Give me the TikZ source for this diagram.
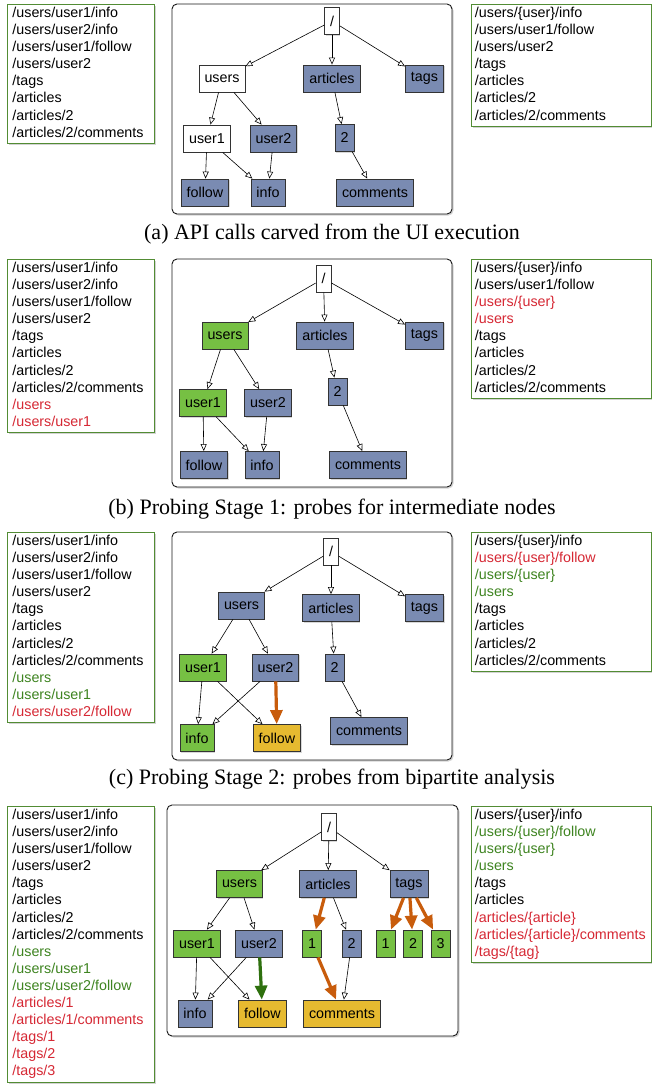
\documentclass[tikz,border=0pt]{standalone}
\usepackage{fontspec}
\setmainfont{Liberation Serif}
\newfontfamily\callfont{Liberation Sans}
\usetikzlibrary{arrows.meta,shadows}

\definecolor{apiblue}{RGB}{122,139,178}
\definecolor{hitgreen}{RGB}{118,192,67}
\definecolor{newgold}{RGB}{230,186,48}
\definecolor{probeorange}{RGB}{200,92,12}
\definecolor{foundgreen}{RGB}{46,112,14}
\definecolor{newred}{RGB}{214,40,52}
\definecolor{okgreen}{RGB}{62,132,32}
\definecolor{listframe}{RGB}{82,140,52}

\tikzset{
  tnode/.style={draw=black!80, line width=0.8pt, minimum height=27pt, inner xsep=5.5pt, inner ysep=0pt,
    font=\callfont\fontsize{14.3}{17}\selectfont,
    drop shadow={shadow xshift=1pt, shadow yshift=-1pt, opacity=0.3}},
  plain/.style={tnode, fill=white},
  seen/.style={tnode, fill=apiblue},
  hit/.style={tnode, fill=hitgreen},
  fresh/.style={tnode, fill=newgold},
  link/.style={line width=0.6pt, -{Triangle[open, length=7pt, width=6pt]}},
  probe/.style={line width=3.2pt, probeorange, -{Triangle[length=14pt, width=12pt]}},
  found/.style={probe, foundgreen},
  calls/.style={draw=listframe, line width=0.9pt, fill=white, anchor=north west, align=left, inner ysep=1pt,
    font=\callfont\fontsize{14.3}{17.1}\selectfont,
    execute at begin node=\strut, execute at end node=\strut,
    drop shadow={shadow xshift=1.5pt, shadow yshift=-1.5pt, opacity=0.35}},
  leftcalls/.style={calls, text width=137pt, inner xsep=5pt},
  rightcalls/.style={calls, text width=173pt, inner xsep=3.5pt},
  treeframe/.style={draw=black!90, line width=0.9pt, rounded corners=5pt, fill=white,
    drop shadow={shadow xshift=1.5pt, shadow yshift=-1.5pt, opacity=0.35}},
  capt/.style={anchor=base, font=\fontsize{22}{26}\selectfont}
}

% the calls carved from the UI, shared by every left list
\newcommand{\carvedcalls}{/users/user1/info\\ /users/user2/info\\ /users/user1/follow\\ /users/user2\\
  /tags\\ /articles\\ /articles/2\\ /articles/2/comments}
\newcommand{\red}[1]{\textcolor{newred}{#1}}
\newcommand{\grn}[1]{\textcolor{okgreen}{#1}}

\begin{document}
\begin{tikzpicture}[x=1pt, y=-1pt]
    \useasboundingbox (0,0) rectangle (652,1085);

    % (a) carved calls
    \node[leftcalls] (alist) at (7,4) {\carvedcalls};
    \draw[treeframe] (172,4) rectangle (452,214);
    \node[rightcalls] (aright) at (471,4) {/users/\{user\}/info\\ /users/user1/follow\\ /users/user2\\ /tags\\
      /articles\\ /articles/2\\ /articles/2/comments};
    \node[plain] (aroot) at (332,21) {/};
    \node[plain] (ausers) at (222,78.5) {users};
    \node[seen] (aarticles) at (332,78.5) {articles};
    \node[seen] (atags) at (424.5,78.5) {tags};
    \node[plain] (auserA) at (207,138.5) {user1};
    \node[seen] (auserB) at (273.5,138.5) {user2};
    \node[seen] (atwo) at (344.5,138) {2};
    \node[seen] (afollow) at (205,192.5) {follow};
    \node[seen] (ainfo) at (268,192.5) {info};
    \node[seen] (acomments) at (375,192.5) {comments};
    \foreach \from/\to in {root/users, root/articles, root/tags, users/userA, users/userB,
        userA/follow, userA/info, userB/info, articles/two, two/comments}
        \draw[link] (a\from) -- (a\to);
    \node[capt] (acap) at (332,239) {(a) API calls carved from the UI execution};

    % (b) probing stage 1
    \node[leftcalls] (blist) at (7,259) {\carvedcalls\\ \red{/users}\\ \red{/users/user1}};
    \draw[treeframe] (172,259) rectangle (452,487);
    \node[rightcalls] (bright) at (471,259) {/users/\{user\}/info\\ /users/user1/follow\\ \red{/users/\{user\}}\\
      \red{/users}\\ /tags\\ /articles\\ /articles/2\\ /articles/2/comments};
    \node[plain] (broot) at (323.5,278.5) {/};
    \node[hit] (busers) at (225,335.5) {users};
    \node[seen] (barticles) at (325,335.5) {articles};
    \node[seen] (btags) at (424.5,335.5) {tags};
    \node[hit] (buserA) at (203,403) {user1};
    \node[seen] (buserB) at (268,403) {user2};
    \node[seen] (btwo) at (337.5,391.5) {2};
    \node[seen] (bfollow) at (204,465) {follow};
    \node[seen] (binfo) at (262,465) {info};
    \node[seen] (bcomments) at (368,465) {comments};
    \foreach \from/\to in {root/users, root/articles, root/tags, users/userA, users/userB,
        userA/follow, userA/info, userB/info, articles/two, two/comments}
        \draw[link] (b\from) -- (b\to);
    \node[capt] (bcap) at (332,514) {(b) Probing Stage 1: probes for intermediate nodes};

    % (c) probing stage 2
    \node[leftcalls] (clist) at (7,532) {\carvedcalls\\ \grn{/users}\\ \grn{/users/user1}\\ \red{/users/user2/follow}};
    \draw[treeframe] (172,532) rectangle (452,760);
    \node[rightcalls] (cright) at (471,532) {/users/\{user\}/info\\ \red{/users/\{user\}/follow}\\
      \grn{/users/\{user\}}\\ \grn{/users}\\ /tags\\ /articles\\ /articles/2\\ /articles/2/comments};
    \node[plain] (croot) at (331,551.5) {/};
    \node[seen] (cusers) at (241.5,605.5) {users};
    \node[seen] (carticles) at (331,608) {articles};
    \node[seen] (ctags) at (424.5,608) {tags};
    \node[hit] (cuserA) at (203,667.5) {user1};
    \node[seen] (cuserB) at (275.5,667.5) {user2};
    \node[seen] (ctwo) at (334.5,667.5) {2};
    \node[hit] (cinfo) at (197,738) {info};
    \node[fresh] (cfollow) at (277,738) {follow};
    \node[seen] (ccomments) at (369,731) {comments};
    \foreach \from/\to in {root/users, root/articles, root/tags, users/userA, users/userB,
        userA/info, userA/follow, userB/info, articles/two, two/comments}
        \draw[link] (c\from) -- (c\to);
    \draw[probe] (cuserB) -- (cfollow);
    \node[capt] (ccap) at (332,784) {(c) Probing Stage 2: probes from bipartite analysis};

    % (d) probing stage 3
    \node[leftcalls] (dlist) at (7,806) {\carvedcalls\\ \grn{/users}\\ \grn{/users/user1}\\ \grn{/users/user2/follow}\\
      \red{/articles/1}\\ \red{/articles/1/comments}\\ \red{/tags/1}\\ \red{/tags/2}\\ \red{/tags/3}};
    \draw[treeframe] (167,805) rectangle (458,1036);
    \node[rightcalls] (dright) at (471,806) {/users/\{user\}/info\\ \grn{/users/\{user\}/follow}\\
      \grn{/users/\{user\}}\\ \grn{/users}\\ /tags\\ /articles\\ \red{/articles/\{article\}}\\
      \red{/articles/\{article\}/comments}\\ \red{/tags/\{tag\}}};
    \node[plain] (droot) at (329,827) {/};
    \node[hit] (dusers) at (239.5,884) {users};
    \node[seen] (darticles) at (328,884) {articles};
    \node[seen] (dtags) at (409,884) {tags};
    \node[hit] (duserA) at (197,943.5) {user1};
    \node[seen] (duserB) at (259,943.5) {user2};
    \node[hit] (done) at (312,943.5) {1};
    \node[seen] (dtwo) at (351.5,943.5) {2};
    \node[hit] (dtagA) at (385.5,943.5) {1};
    \node[hit] (dtagB) at (413,943.5) {2};
    \node[hit] (dtagC) at (440.5,943.5) {3};
    \node[seen] (dinfo) at (195,1013.5) {info};
    \node[fresh] (dfollow) at (262.5,1013.5) {follow};
    \node[fresh] (dcomments) at (342,1013.5) {comments};
    \foreach \from/\to in {root/users, root/articles, root/tags, users/userA, users/userB,
        userA/info, userA/follow, userB/info, articles/two, two/comments}
        \draw[link] (d\from) -- (d\to);
    \foreach \from/\to in {articles/one, one/comments, tags/tagA, tags/tagB, tags/tagC}
        \draw[probe] (d\from) -- (d\to);
    \draw[found] (duserB) -- (dfollow);
\end{tikzpicture}
\end{document}
